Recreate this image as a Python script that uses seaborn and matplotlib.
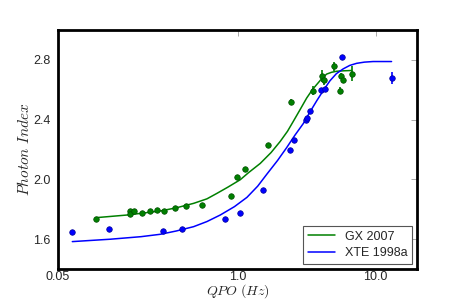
import matplotlib
matplotlib.use('Agg')
import matplotlib.pyplot as plt
import seaborn as sns
from matplotlib.ticker import FixedLocator, FixedFormatter, NullLocator

# GX 2007 data points (QPO in Hz, photon index, error)
gx_qpo = [0.095, 0.166, 0.166, 0.179, 0.205, 0.233, 0.263, 0.292, 0.355, 0.426,
          0.549, 0.90, 0.99, 1.14, 1.67, 2.44, 3.51, 4.11, 4.23, 4.97,
          5.52, 5.58, 5.78, 6.71]
gx_index = [1.735, 1.789, 1.769, 1.789, 1.778, 1.789, 1.797, 1.789, 1.809, 1.820,
            1.829, 1.889, 2.018, 2.069, 2.229, 2.517, 2.595, 2.695, 2.667, 2.757,
            2.595, 2.689, 2.667, 2.707]
gx_err = [0.008, 0.008, 0.008, 0.008, 0.008, 0.008, 0.008, 0.008, 0.008, 0.008,
          0.008, 0.008, 0.015, 0.015, 0.01, 0.018, 0.03, 0.04, 0.035, 0.03,
          0.025, 0.02, 0.02, 0.05]

# XTE 1998a data points
xte_qpo = [0.0636, 0.117, 0.29, 0.396, 0.805, 1.034, 1.53, 2.38, 2.58, 3.15,
           3.17, 3.35, 4.0, 4.3, 5.73, 13.05]
xte_index = [1.647, 1.667, 1.657, 1.667, 1.735, 1.777, 1.929, 2.200, 2.267, 2.396,
             2.409, 2.455, 2.596, 2.603, 2.817, 2.677]
xte_err = [0.005, 0.005, 0.005, 0.005, 0.005, 0.005, 0.005, 0.005, 0.005, 0.005,
           0.005, 0.005, 0.005, 0.005, 0.005, 0.04]

# fitted curves
gx_fit_x = [0.094, 0.159, 0.276, 0.36, 0.481, 0.6, 0.71, 0.85, 1.046, 1.2,
            1.46, 1.75, 2.04, 2.3, 2.54, 2.85, 3.17, 3.5, 3.85, 4.1,
            4.42, 4.8, 5.22, 5.9, 6.71]
gx_fit_y = [1.744, 1.762, 1.789, 1.810, 1.840, 1.870, 1.907, 1.948, 1.998, 2.045,
            2.107, 2.180, 2.255, 2.322, 2.390, 2.470, 2.545, 2.603, 2.648, 2.678,
            2.705, 2.717, 2.724, 2.727, 2.729]
xte_fit_x = [0.0636, 0.120, 0.2, 0.276, 0.36, 0.481, 0.6, 0.75, 0.95, 1.17,
             1.4, 1.63, 1.95, 2.27, 2.6, 3.0, 3.35, 3.75, 4.2, 4.67,
             5.2, 5.83, 6.5, 7.29, 8.3, 9.6, 13.05]
xte_fit_y = [1.584, 1.600, 1.617, 1.633, 1.655, 1.684, 1.718, 1.762, 1.818, 1.880,
             1.955, 2.035, 2.127, 2.213, 2.295, 2.375, 2.452, 2.527, 2.598, 2.660,
             2.708, 2.740, 2.763, 2.777, 2.785, 2.789, 2.789]

green = (0, 0.5, 0)
blue = (0, 0, 1)

sns.set_style('white')
plt.rcParams['font.family'] = ['Liberation Sans', 'DejaVu Sans']
plt.rcParams['mathtext.fontset'] = 'cm'

fig = plt.figure(figsize=(4.63, 3.0), dpi=100)
ax = fig.add_axes([0.125, 0.103, 0.776, 0.797])

sns.lineplot(x=gx_fit_x, y=gx_fit_y, color=green, lw=1.1, sort=False,
             estimator=None, label='GX 2007', ax=ax)
sns.lineplot(x=xte_fit_x, y=xte_fit_y, color=blue, lw=1.1, sort=False,
             estimator=None, label='XTE 1998a', ax=ax)

ax.errorbar(gx_qpo, gx_index, yerr=gx_err, fmt='none', ecolor=green, elinewidth=1.2)
ax.errorbar(xte_qpo, xte_index, yerr=xte_err, fmt='none', ecolor=blue, elinewidth=1.2)
sns.scatterplot(x=gx_qpo, y=gx_index, color=green, s=16, edgecolor=(0, 0.3, 0),
                linewidth=0.5, ax=ax, zorder=3)
sns.scatterplot(x=xte_qpo, y=xte_index, color=blue, s=16, edgecolor=(0, 0, 0.6),
                linewidth=0.5, ax=ax, zorder=3)

ax.set_xscale('log')
ax.set_xlim(0.05, 20)
ax.set_ylim(1.4, 3.0)
ax.xaxis.set_major_locator(FixedLocator([0.05, 1.0, 10.0]))
ax.xaxis.set_major_formatter(FixedFormatter(['0.05', '1.0', '10.0']))
ax.xaxis.set_minor_locator(NullLocator())
ax.set_yticks([1.6, 2.0, 2.4, 2.8])
ax.set_yticklabels(['1.6', '2.0', '2.4', '2.8'])
ax.tick_params(direction='in', length=4, width=0.5, color='#888888',
               labelsize=9, top=True, right=True)
ax.tick_params(axis='x', pad=1.5)
ax.tick_params(axis='y', pad=5)

for sp in ax.spines.values():
    sp.set_linewidth(2)
    sp.set_color('black')

ax.set_xlabel(r'$QPO\ (Hz)$', fontsize=10, va='center')
ax.xaxis.set_label_coords(0.5, -0.092)
ax.set_ylabel(r'$Photon\ Index$', fontsize=11, va='center')
ax.yaxis.set_label_coords(-0.093, 0.5)

leg = ax.legend(loc='lower right', fontsize=9, fancybox=False, framealpha=1,
                edgecolor='#555555', handlelength=2.1, handletextpad=0.8,
                borderaxespad=0.4, labelspacing=0.35)
leg.get_frame().set_linewidth(0.8)

fig.savefig('out.png', dpi=100)
